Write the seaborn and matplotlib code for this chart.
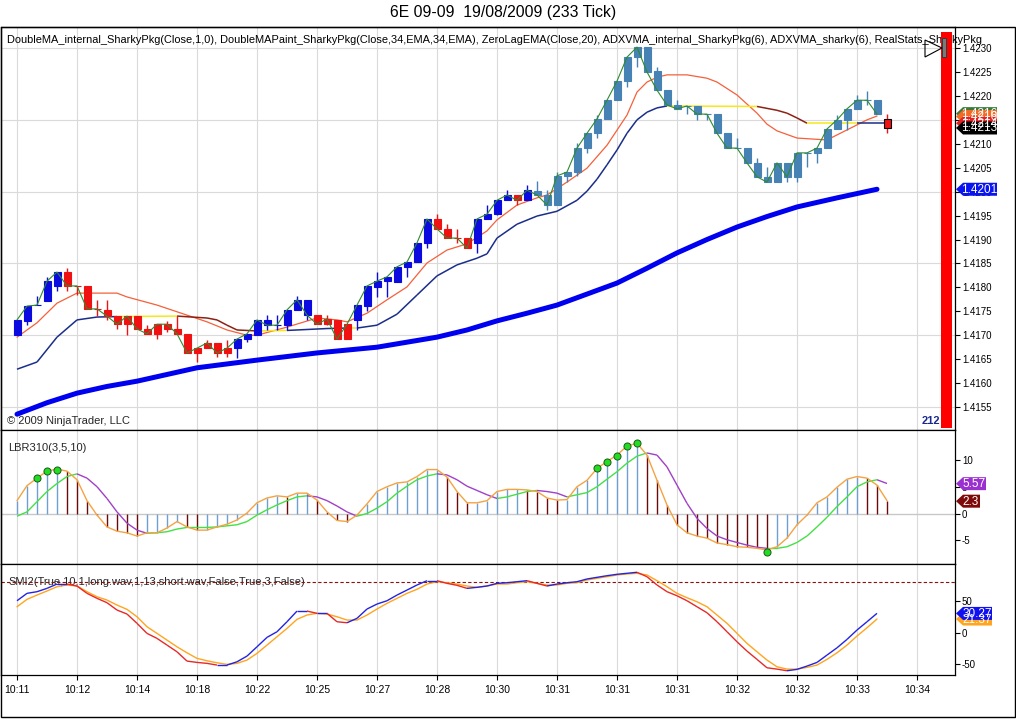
import numpy as np
import matplotlib
matplotlib.use("Agg")
import matplotlib.pyplot as plt
import matplotlib.transforms as mtransforms
from matplotlib.patches import Polygon, Rectangle
from matplotlib.collections import LineCollection
import seaborn as sns

# 1. Data (bar index 0..87)

opens = [1.41700, 1.41730, 1.41763, 1.41771, 1.41803, 1.41832, 1.41803, 1.41803, 1.41755, 1.41753,
         1.41740, 1.41723, 1.41740, 1.41713, 1.41703, 1.41713, 1.41713, 1.41703, 1.41663, 1.41673,
         1.41684, 1.41663, 1.41673, 1.41692, 1.41700, 1.41732, 1.41721, 1.41721, 1.41753, 1.41774,
         1.41742, 1.41723, 1.41732, 1.41692, 1.41732, 1.41761, 1.41801, 1.41813, 1.41811, 1.41843,
         1.41853, 1.41893, 1.41943, 1.41922, 1.41903, 1.41903, 1.41893, 1.41943, 1.41953, 1.41982,
         1.41993, 1.41982, 1.42001, 1.41993, 1.41972, 1.42033, 1.42041, 1.42091, 1.42122, 1.42152,
         1.42191, 1.42231, 1.42281, 1.42302, 1.42252, 1.42212, 1.42181, 1.42179, 1.42179, 1.42162,
         1.42162, 1.42122, 1.42091, 1.42091, 1.42060, 1.42031, 1.42020, 1.42060, 1.42031, 1.42081,
         1.42081, 1.42091, 1.42131, 1.42150, 1.42173, 1.42191, 1.42191, 1.42152]
highs = [1.41732, 1.41761, 1.41782, 1.41822, 1.41832, 1.41840, 1.41803, 1.41803, 1.41774, 1.41774,
         1.41740, 1.41740, 1.41740, 1.41721, 1.41723, 1.41730, 1.41740, 1.41703, 1.41673, 1.41690,
         1.41684, 1.41690, 1.41692, 1.41703, 1.41732, 1.41742, 1.41742, 1.41753, 1.41782, 1.41774,
         1.41742, 1.41742, 1.41732, 1.41723, 1.41763, 1.41803, 1.41832, 1.41822, 1.41843, 1.41853,
         1.41893, 1.41943, 1.41953, 1.41932, 1.41922, 1.41903, 1.41943, 1.41972, 1.41982, 1.42003,
         1.41993, 1.42014, 1.42022, 1.42003, 1.42041, 1.42041, 1.42102, 1.42122, 1.42160, 1.42191,
         1.42231, 1.42281, 1.42302, 1.42302, 1.42260, 1.42212, 1.42191, 1.42179, 1.42179, 1.42162,
         1.42162, 1.42122, 1.42112, 1.42091, 1.42070, 1.42051, 1.42060, 1.42060, 1.42081, 1.42081,
         1.42091, 1.42131, 1.42160, 1.42173, 1.42202, 1.42210, 1.42191, 1.42162]
lows = [1.41700, 1.41721, 1.41763, 1.41771, 1.41792, 1.41792, 1.41784, 1.41755, 1.41740, 1.41732,
        1.41713, 1.41700, 1.41713, 1.41703, 1.41692, 1.41707, 1.41703, 1.41663, 1.41644, 1.41673,
        1.41655, 1.41655, 1.41652, 1.41686, 1.41700, 1.41711, 1.41711, 1.41711, 1.41753, 1.41732,
        1.41723, 1.41721, 1.41692, 1.41692, 1.41711, 1.41751, 1.41780, 1.41780, 1.41811, 1.41822,
        1.41853, 1.41882, 1.41922, 1.41903, 1.41893, 1.41882, 1.41872, 1.41943, 1.41951, 1.41982,
        1.41972, 1.41982, 1.41993, 1.41962, 1.41972, 1.42020, 1.42033, 1.42081, 1.42112, 1.42152,
        1.42191, 1.42219, 1.42260, 1.42250, 1.42212, 1.42181, 1.42173, 1.42162, 1.42150, 1.42150,
        1.42122, 1.42091, 1.42091, 1.42060, 1.42031, 1.42020, 1.42020, 1.42020, 1.42020, 1.42051,
        1.42060, 1.42091, 1.42131, 1.42129, 1.42173, 1.42181, 1.42162, 1.42122]
closes = [1.41732, 1.41761, 1.41763, 1.41813, 1.41832, 1.41803, 1.41803, 1.41755, 1.41755, 1.41740,
          1.41723, 1.41740, 1.41713, 1.41703, 1.41723, 1.41723, 1.41703, 1.41663, 1.41673, 1.41684,
          1.41663, 1.41673, 1.41692, 1.41703, 1.41732, 1.41721, 1.41721, 1.41753, 1.41774, 1.41742,
          1.41723, 1.41734, 1.41692, 1.41723, 1.41763, 1.41803, 1.41813, 1.41822, 1.41843, 1.41853,
          1.41893, 1.41943, 1.41922, 1.41903, 1.41903, 1.41882, 1.41943, 1.41953, 1.41982, 1.41993,
          1.41982, 1.42003, 1.41993, 1.41972, 1.42033, 1.42041, 1.42091, 1.42122, 1.42152, 1.42191,
          1.42231, 1.42281, 1.42302, 1.42250, 1.42212, 1.42181, 1.42173, 1.42179, 1.42162, 1.42162,
          1.42122, 1.42091, 1.42091, 1.42060, 1.42031, 1.42020, 1.42060, 1.42031, 1.42081, 1.42081,
          1.42091, 1.42131, 1.42150, 1.42173, 1.42191, 1.42191, 1.42162, 1.42133]
# paint colour per bar: b = blue, r = red, s = steel
bar_paint = list("bbbbb" + "rrrrrrrrrrrrrrrrr" + "bbbbbbbb" + "rrrr" + "bbbbbbbb" + "rrrr"
                 + "bbbb" + "r" + "b" + "sssssssssssssssssssssssssssssssssss" + "r")

# ZeroLagEMA (orange) knots
zl_bars = [0, 2, 4, 6, 10, 11, 14, 17, 19, 21, 23, 24, 27, 30, 32, 33, 35, 37, 39, 41, 43, 45,
           47, 48, 50, 52, 53, 55, 57, 59, 61, 62, 63, 64, 65, 67, 69, 70, 72, 74, 75, 76, 78,
           81, 83, 85, 86]
zl_vals = [1.41696, 1.41726, 1.41767, 1.41788, 1.41788, 1.41780, 1.41763, 1.41742, 1.41728,
           1.41711, 1.41700, 1.41700, 1.41717, 1.41736, 1.41732, 1.41728, 1.41746, 1.41774,
           1.41801, 1.41851, 1.41878, 1.41891, 1.41918, 1.41941, 1.41972, 1.41987, 1.41993,
           1.42020, 1.42049, 1.42097, 1.42160, 1.42208, 1.42229, 1.42239, 1.42244, 1.42244,
           1.42237, 1.42229, 1.42202, 1.42164, 1.42141, 1.42127, 1.42112, 1.42108, 1.42129,
           1.42150, 1.42158]

# ADXVMA knots with trend state of the segment that starts there
adx_bars = [0, 2, 4, 6, 8, 10, 16, 19, 20, 21, 22, 24, 27, 31, 33, 34, 36, 38, 40, 42, 44, 46,
            47, 48, 50, 52, 54, 56, 57, 58, 59, 60, 61, 62, 63, 64, 65, 74, 76, 77, 78, 79, 84, 87]
adx_vals = [1.41629, 1.41644, 1.41696, 1.41732, 1.41738, 1.41739, 1.41740, 1.41736, 1.41732,
            1.41721, 1.41711, 1.41709, 1.41710, 1.41714, 1.41715, 1.41715, 1.41721, 1.41744,
            1.41784, 1.41824, 1.41847, 1.41861, 1.41870, 1.41903, 1.41932, 1.41949, 1.41959,
            1.41982, 1.42001, 1.42026, 1.42056, 1.42087, 1.42122, 1.42150, 1.42166, 1.42175,
            1.42179, 1.42178, 1.42170, 1.42164, 1.42154, 1.42143, 1.42143, 1.42143]
adx_state = (["up"] * 5 + ["flat"] + ["down"] * 5 + ["flat"] + ["up"] * 2 + ["flat"]
             + ["up"] * 21 + ["flat"] + ["down"] * 4 + ["flat"] + ["up"])

# DoubleMAPaint EMA(34) thick blue knots
ema_bars = [0, 3, 6, 9, 12, 18, 24, 30, 36, 42, 45, 48, 51, 54, 57, 60, 63, 66, 69, 72, 75, 78, 82, 86]
ema_vals = [1.41535, 1.41559, 1.41579, 1.41593, 1.41604, 1.41632, 1.41648, 1.41663, 1.41675,
            1.41696, 1.41711, 1.41730, 1.41746, 1.41763, 1.41786, 1.41809, 1.41840, 1.41872,
            1.41900, 1.41926, 1.41948, 1.41968, 1.41987, 1.42005]

grid_levels = [1.4155, 1.4170, 1.4185, 1.4200, 1.4215, 1.4230]

# LBR310 panel
lbr_fast = [2.4, 5.2, 6.6, 7.9, 8.3, 7.9, 6.3, 2.4, -0.3, -2.5,
            -3.3, -3.6, -4.2, -3.6, -3.6, -2.7, -1.5, -2.5, -3.1, -3.1,
            -2.5, -2.0, -1.2, 0.1, 2.0, 2.9, 3.3, 3.1, 3.8, 3.8,
            2.5, 0.3, -1.3, -1.5, -0.3, 1.8, 4.1, 5.0, 5.7, 5.9,
            6.9, 8.2, 8.2, 6.8, 4.1, 2.0, 2.0, 2.4, 4.1, 4.5,
            4.5, 4.4, 4.1, 2.9, 2.5, 2.6, 5.0, 6.2, 8.4, 9.7,
            10.9, 12.6, 13.1, 10.9, 6.2, 1.6, -2.1, -3.6, -4.2, -4.6,
            -5.5, -5.8, -6.2, -6.3, -6.5, -6.8, -6.2, -4.6, -2.1, -0.3,
            2.0, 3.1, 4.9, 6.4, 6.9, 6.6, 5.3, 2.4]
lbr_slow = [-0.5, 0.3, 2.2, 4.1, 5.6, 6.9, 7.4, 6.6, 5.0, 2.8,
            0.3, -1.8, -3.1, -3.7, -3.6, -3.4, -2.9, -2.6, -2.6, -2.6,
            -2.5, -2.3, -2.1, -1.5, -0.3, 0.7, 1.6, 2.4, 3.1, 3.3,
            3.1, 2.4, 1.4, 0.3, -0.5, 0.0, 1.0, 2.2, 3.8, 5.1,
            6.3, 7.0, 7.4, 7.2, 6.3, 5.1, 4.3, 3.5, 2.8, 3.1,
            3.6, 4.1, 4.3, 4.1, 3.8, 3.1, 3.5, 3.9, 5.0, 6.4,
            7.8, 9.4, 10.7, 11.3, 10.9, 8.7, 5.3, 1.9, -0.9, -2.8,
            -4.2, -4.9, -5.4, -5.9, -6.3, -6.5, -6.5, -6.2, -5.4, -4.2,
            -2.5, -0.7, 1.3, 3.1, 5.0, 5.9, 6.3, 5.6]
dot_bars = [2, 3, 4, 58, 59, 60, 61, 62, 75]
dot_vals = [6.6, 7.9, 8.2, 8.4, 9.7, 10.8, 12.6, 13.1, -7.2]

# SMI2 panel (bars 0..86)
smi_main = [50.3, 62.0, 64.6, 69.9, 76.7, 76.7, 73.6, 62.0, 54.1, 47.2,
            35.6, 29.3, 14.6, -1.3, -9.2, -19.8, -30.4, -45.1, -47.2, -48.7,
            -51.4, -51.4, -46.2, -37.2, -22.5, -7.6, 1.3, 17.1, 34.0, 34.0,
            30.4, 30.4, 17.1, 15.5, 22.5, 37.2, 45.1, 50.3, 59.3, 67.2,
            75.2, 82.0, 82.0, 77.8, 74.7, 69.9, 71.5, 73.6, 77.8, 78.8,
            80.4, 82.0, 77.8, 73.6, 76.7, 78.8, 80.4, 84.7, 87.3, 89.9,
            92.1, 93.7, 95.3, 88.3, 75.2, 64.6, 58.2, 50.3, 40.8, 31.3,
            17.1, 1.3, -14.6, -29.3, -42.4, -55.7, -57.8, -60.4, -58.2, -53.0,
            -47.2, -35.6, -24.1, -10.8, 4.0, 17.1, 30.4]
smi_signal = [40.8, 52.5, 59.3, 65.7, 72.5, 75.2, 73.6, 64.6, 56.6, 51.4,
              43.5, 36.7, 25.0, 9.2, -1.3, -11.9, -22.5, -32.0, -40.8, -44.6,
              -47.8, -50.3, -48.7, -43.5, -32.9, -19.8, -6.6, 6.6, 20.9, 27.7,
              30.4, 29.3, 25.0, 19.8, 19.8, 27.7, 37.2, 46.2, 54.1, 62.0,
              68.4, 76.7, 80.4, 78.8, 76.7, 73.6, 71.5, 73.6, 76.7, 76.7,
              78.8, 80.4, 77.8, 75.2, 75.2, 77.8, 78.8, 83.1, 85.8, 88.3,
              91.0, 92.6, 93.7, 91.0, 82.0, 72.5, 62.0, 55.1, 48.7, 40.8,
              27.7, 14.6, -1.3, -17.1, -30.4, -43.5, -54.1, -57.8, -57.8, -55.1,
              -51.4, -42.4, -32.0, -19.8, -5.5, 7.6, 21.4]
smi_level = 80

time_labels = ["10:11", "10:12", "10:14", "10:18", "10:22", "10:25", "10:27", "10:28",
               "10:30", "10:31", "10:31", "10:31", "10:32", "10:32", "10:33", "10:34"]

# 2. Figure setup
sns.set_theme(style="white")
plt.rcParams['font.family'] = ['Liberation Sans', 'DejaVu Sans']
plt.rcParams['axes.unicode_minus'] = False

W, H = 1016, 719
fig = plt.figure(figsize=(W / 100, H / 100), dpi=100)
fig.patch.set_facecolor("white")


def px_axes(l, t, r, b):
    return fig.add_axes([l / W, 1 - b / H, (r - l) / W, (b - t) / H])


ax = px_axes(1, 27, 955, 430)
ax_lbr = px_axes(1, 430, 955, 564)
ax_smi = px_axes(1, 564, 955, 675)

n = len(closes)
idx = np.arange(n)
grid_x = np.arange(0, 91, 6)
PAINT = {"b": "#0B0BE0", "r": "#F01212", "s": "#4682B4"}

for a in (ax, ax_lbr, ax_smi):
    a.set_facecolor("white")
    a.set_xlim(-1.6, 93.8)
    for gx in grid_x:
        a.axvline(gx, color="#DADADA", lw=0.8, zorder=0)
    for sp in a.spines.values():
        sp.set_color("black")
        sp.set_linewidth(0.9)
    a.yaxis.tick_right()
    a.tick_params(axis="y", which="both", direction="out", length=3.5, width=0.8,
                  pad=1.5, labelsize=7, colors="black", right=True, left=False)
    a.tick_params(axis="x", bottom=False, labelbottom=False)

# 3. Price panel
ax.set_ylim(1.41502, 1.42344)
for lvl in grid_levels:
    ax.axhline(lvl, color="#DADADA", lw=0.8, zorder=0)
yt = np.round(np.arange(1.4155, 1.42301, 0.0005), 4)
ax.set_yticks(yt)
ax.set_yticklabels([f"{v:.4f}" for v in yt])

sns.lineplot(x=ema_bars, y=ema_vals, ax=ax, color="#0000F0", linewidth=3.6, zorder=2,
             solid_joinstyle="round")
sns.lineplot(x=zl_bars, y=zl_vals, ax=ax, color="#F5603A", linewidth=0.9, zorder=3)

state_col = {"up": "#1A2E8A", "flat": "#F4E81A", "down": "#8B2214"}
segs = [[(adx_bars[i], adx_vals[i]), (adx_bars[i + 1], adx_vals[i + 1])] for i in range(len(adx_bars) - 1)]
ax.add_collection(LineCollection(segs, colors=[state_col[s] for s in adx_state], linewidths=1.1, zorder=3))

o = np.array(opens)
c = np.array(closes)
cols = [PAINT[p] for p in bar_paint]
edges = list(cols)
edges[-1] = "black"
ax.vlines(idx, lows, highs, colors=cols, lw=1.0, zorder=4)
ax.bar(idx, np.abs(c - o), bottom=np.minimum(o, c), width=0.7, color=cols,
       edgecolor=edges, linewidth=0.8, zorder=5)
sns.lineplot(x=idx[:-1], y=closes[:-1], ax=ax, color="#2F8A2F", linewidth=0.8, zorder=6)

fig.text(7 / W, 1 - 40 / H,
         "DoubleMA_internal_SharkyPkg(Close,1,0), DoubleMAPaint_SharkyPkg(Close,34,EMA,34,EMA), "
         "ZeroLagEMA(Close,20), ADXVMA_internal_SharkyPkg(6), ADXVMA_sharky(6), RealStats_SharkyPkg",
         fontsize=7.9, va="center", ha="left", color="black", zorder=5)
fig.text(7 / W, 1 - 421 / H, "\u00a9 2009 NinjaTrader, LLC", fontsize=8, va="center", ha="left")
fig.text(931 / W, 1 - 421 / H, "212", fontsize=8, fontweight="bold", color="#1A2A8C",
         va="center", ha="center")

# right-hand red bar and markers
fig.add_artist(Rectangle((941 / W, 1 - 428 / H), 11 / W, (428 - 32) / H,
                         transform=fig.transFigure, fc="#FF0000", ec="none", zorder=8))
fig.add_artist(Rectangle((942 / W, 1 - 57 / H), 4 / W, 19 / H, transform=fig.transFigure,
                         fc="#7A7A7A", ec="#3A3A3A", lw=0.7, zorder=9))
fig.add_artist(Polygon([[925 / W, 1 - 40 / H], [925 / W, 1 - 57 / H], [942 / W, 1 - 48 / H]],
                       closed=True, transform=fig.transFigure, fill=False, ec="black", lw=0.8, zorder=9))


def flag(a, yv, txt, fc, w=42, h=13, tc="white"):
    tr = fig.dpi_scale_trans + mtransforms.ScaledTranslation(1.0, yv, a.get_yaxis_transform())
    pts = np.array([[1, 0], [8, h / 2], [w, h / 2], [w, -h / 2], [8, -h / 2]]) / 100.0
    fig.add_artist(Polygon(pts, closed=True, transform=tr, fc=fc, ec="none", zorder=15))
    fig.text((w + 7) / 200.0, -0.005, txt, transform=tr, fontsize=8.5, color=tc,
             ha="center", va="center", zorder=16)


flag(ax, 1.42163, "1.4216", "#3C7A3C")
flag(ax, 1.42157, "1.4216", "#F26A24")
flag(ax, 1.42143, "1.4214", "#E52020")
flag(ax, 1.42133, "1.4213", "#000000")
flag(ax, 1.42005, "1.4201", "#0A14F0")

# 4. LBR310 panel
ax_lbr.set_ylim(-9.42, 15.58)
ax_lbr.axhline(0, color="#C8C8C8", lw=1.0, zorder=0)
ax_lbr.set_yticks([-5, 0, 5, 10])
ax_lbr.set_yticklabels(["-5", "0", "5", "10"])
fast = np.array(lbr_fast)
rising = np.r_[True, np.diff(fast) >= 0]
hist_cols = ["#6F9FD2" if r else "#6A0A0A" for r in rising]
ax_lbr.vlines(idx, 0, fast, colors=hist_cols, lw=1.0, zorder=2)
slow = np.array(lbr_slow)
segs = [[(i, slow[i]), (i + 1, slow[i + 1])] for i in range(n - 1)]
ax_lbr.add_collection(LineCollection(
    segs, colors=["#44E044" if slow[i + 1] >= slow[i] else "#A040C8" for i in range(n - 1)],
    linewidths=1.0, zorder=3))
sns.lineplot(x=idx, y=lbr_fast, ax=ax_lbr, color="#F5A342", linewidth=1.0, zorder=4)
ax_lbr.scatter(dot_bars, dot_vals, s=26, color="#22DD22", edgecolor="#1A5A1A", linewidth=0.7, zorder=5)
ax_lbr.text(7 / 954, 1 - 18 / 134, "LBR310(3,5,10)", transform=ax_lbr.transAxes, fontsize=8,
            va="center", ha="left")
flag(ax_lbr, 5.57, "5.57", "#9B30D0", w=31)
flag(ax_lbr, 2.3, "2.3", "#7E0A0A", w=25)

# 5. SMI2 panel
ax_smi.set_ylim(-67.1, 108.4)
ax_smi.set_yticks([-50, 0, 50])
ax_smi.set_yticklabels(["-50", "0", "50"])
ax_smi.axhline(smi_level, color="#8B1010", lw=0.8, ls=(0, (3, 2)), zorder=2)
sidx = np.arange(len(smi_main))
sm = np.array(smi_main)
sns.lineplot(x=sidx, y=smi_signal, ax=ax_smi, color="#FFA51E", linewidth=1.0, zorder=3)
segs = [[(i, sm[i]), (i + 1, sm[i + 1])] for i in range(len(sm) - 1)]
ax_smi.add_collection(LineCollection(
    segs, colors=["#2323E0" if sm[i + 1] >= sm[i] else "#E82828" for i in range(len(sm) - 1)],
    linewidths=1.0, zorder=4))
ax_smi.text(7 / 954, 1 - 18 / 111, "SMI2(True,10,1,long.wav,1,13,short.wav,False,True,3,False)",
            transform=ax_smi.transAxes, fontsize=8, va="center", ha="left", zorder=1)
flag(ax_smi, 21.37, "21.37", "#FFA51E", w=37)
flag(ax_smi, 30.27, "30.27", "#1010F0", w=37)

ax_smi.set_xticks(grid_x)
ax_smi.set_xticklabels(time_labels)
ax_smi.tick_params(axis="x", bottom=True, labelbottom=True, direction="out", length=3.5,
                   width=0.8, pad=4, labelsize=7.5, colors="black")

for a in (ax, ax_lbr, ax_smi):
    a.set_xlabel("")
    a.set_ylabel("")
    a.set_xlim(-1.6, 93.8)

# 6. Title and outer frame
fig.text(503.5 / W, 1 - 13 / H, "6E 09-09  19/08/2009 (233 Tick)", fontsize=11.3,
         ha="center", va="center", color="black")
fig.add_artist(Rectangle((1 / W, 2 / H), 1014 / W, 690 / H, transform=fig.transFigure,
                         fill=False, ec="black", lw=1.0, zorder=30))

fig.savefig("out.png", dpi=100, facecolor="white")
